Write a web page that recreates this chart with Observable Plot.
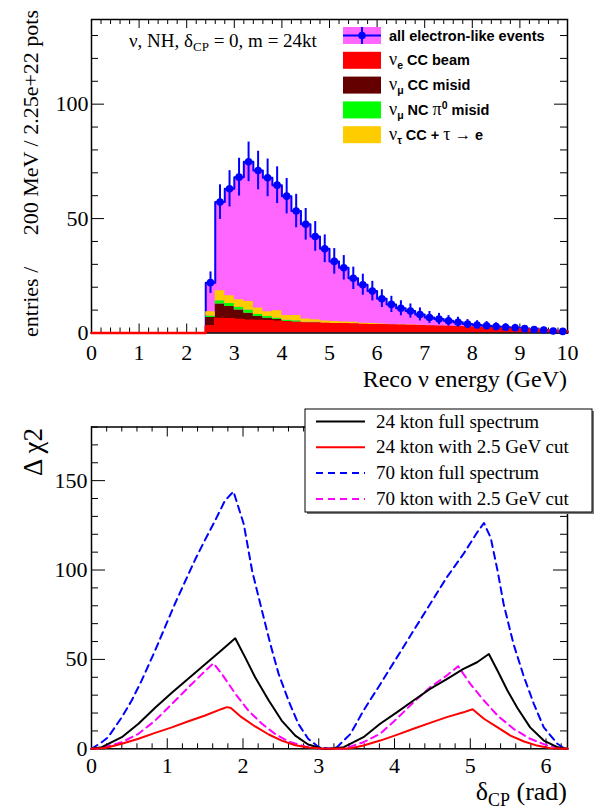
<!DOCTYPE html>
<html>
<head>
<meta charset="utf-8">
<script src="https://cdn.jsdelivr.net/npm/d3@7"></script>
<script src="https://cdn.jsdelivr.net/npm/@observablehq/plot@0.6"></script>
<style>
  html, body { margin: 0; padding: 0; background: #fff; }
  #chart { position: relative; width: 600px; height: 811px; overflow: hidden; background: #fff; }
  #chart svg { position: absolute; left: 0; }
</style>
</head>
<body>
<div id="chart"></div>
<script>
// ---------- spectrum: 50 bins of 200 MeV, 0-10 GeV ----------
const binWidth = 0.2;
const binLow = d3.range(50).map(i => Math.round(i * binWidth * 10) / 10);

const allEvents = [0,0,0,0,0,0,0,0,0,0,0,0,
  22.0, 57.2, 63.0, 68.1, 74.8, 71.0, 67.8, 64.6, 59.8, 53.3,
  47.5, 42.2, 36.8, 31.3, 28.5, 23.9, 21.1, 18.3, 15.0, 12.5,
  10.8, 9.6, 8.1, 6.8, 6.1, 5.3, 4.7, 3.9, 3.5, 3.2,
  2.8, 2.5, 2.3, 1.9, 1.5, 1.3, 0.9, 0.7];
const nueCCBeam = [0,0,0,0,0,0,0,0,0,0,0,0,
  2.9, 6.1, 6.0, 5.7, 5.4, 5.2, 5.1, 4.9, 4.6, 4.4,
  4.1, 4.1, 3.9, 3.8, 3.8, 3.7, 3.5, 3.4, 3.4, 3.3,
  3.2, 3.1, 3.0, 2.8, 2.7, 2.6, 2.5, 2.4, 2.2, 2.1,
  2.0, 1.9, 1.8, 1.6, 1.3, 1.2, 0.9, 0.7];
const numuCCMisid = [0,0,0,0,0,0,0,0,0,0,0,0,
  3.9, 6.6, 5.6, 4.3, 3.2, 2.0, 1.4, 1.0, 0.4, 0.3,
  0.2, 0.15, 0.1, 0.1, 0.05, 0.05, 0.05, 0.05, 0.05, 0.05,
  0.05, 0.05, 0.05, 0, 0, 0, 0, 0, 0, 0,
  0, 0, 0, 0, 0, 0, 0, 0];
const numuNCPi0 = [0,0,0,0,0,0,0,0,0,0,0,0,
  0.6, 1.4, 1.3, 1.2, 1.4, 0.9, 0.7, 0.6, 0.6, 0.6,
  0.4, 0.4, 0.3, 0.2, 0.2, 0.2, 0.15, 0.15, 0.1, 0.1,
  0.1, 0.1, 0.1, 0.1, 0.05, 0.05, 0.05, 0.05, 0.05, 0.05,
  0, 0, 0, 0, 0, 0, 0, 0];
const nutauCC = [0,0,0,0,0,0,0,0,0,0,0,0,
  1.9, 4.4, 3.4, 3.3, 3.8, 2.8, 2.1, 3.2, 2.0, 2.3,
  1.4, 1.1, 0.9, 0.9, 0.8, 0.7, 0.6, 0.5, 0.4, 0.3,
  0.3, 0.2, 0.2, 0.1, 0.1, 0.1, 0.1, 0.1, 0, 0,
  0, 0, 0, 0, 0, 0, 0, 0];

const componentNames = ["nue CC beam", "numu CC misid", "numu NC pi0 misid", "nutau CC"];
const componentColors = ["#ff0000", "#650000", "#00ff00", "#ffcc00"];
const components = [nueCCBeam, numuCCMisid, numuNCPi0, nutauCC];

// ---------- delta_CP sensitivity curves ----------
const chi24Full = [[0,0],[0.136,0.9],[0.40,6.5],[0.62,14],[0.84,23],[1.06,31.3],[1.28,39.3],[1.50,47.3],
  [1.72,55.3],[1.897,61.8],[2.03,51],[2.16,40],[2.34,27],[2.51,15.8],[2.69,7.4],[2.86,2.4],[3.04,0.2],
  [3.14,0],[3.33,0.9],[3.59,6.5],[3.81,14],[4.03,20.4],[4.25,27],[4.47,33.5],[4.69,39],[4.91,44.7],
  [5.09,48.4],[5.245,53],[5.36,43.7],[5.49,32.6],[5.62,23],[5.79,12],[5.97,4.6],[6.15,0.9],[6.283,0]];
const chi24Cut = [[0,0],[0.18,0.4],[0.40,2.8],[0.62,5.6],[0.84,8.9],[1.06,12],[1.28,15.4],[1.50,18.6],
  [1.72,22.3],[1.787,23.3],[1.84,22.8],[1.98,17.7],[2.16,12.5],[2.34,8],[2.51,4.6],[2.69,2],[2.86,0.7],
  [3.04,0.1],[3.14,0],[3.42,0.3],[3.59,1.8],[3.81,4.6],[4.03,7.8],[4.25,11.2],[4.47,14.5],[4.69,17.7],
  [4.91,20.4],[5.03,22.1],[5.18,16.8],[5.36,12],[5.53,7.4],[5.71,4.1],[5.88,1.8],[6.06,0.3],[6.283,0]];
const chi70Full = [[0,0],[0.136,3.7],[0.22,6.5],[0.40,17.7],[0.53,27],[0.66,38],[0.84,55],[0.97,68],
  [1.10,81],[1.24,94],[1.37,106],[1.50,117],[1.63,127.5],[1.76,138.7],[1.874,143.9],[2.01,125.7],
  [2.12,99.6],[2.25,77.3],[2.36,58.7],[2.47,41.9],[2.60,27],[2.73,14],[2.86,5.6],[3.0,0.9],[3.14,0],
  [3.24,0.9],[3.42,8.4],[3.59,21.4],[3.81,36],[4.03,51],[4.25,66],[4.47,81],[4.69,95.9],[4.91,109],
  [5.09,121],[5.18,126.3],[5.27,118],[5.36,99.6],[5.44,81],[5.57,58.7],[5.71,40],[5.84,25],[5.97,12],
  [6.15,2.8],[6.23,0.5],[6.283,0]];
const chi70Cut = [[0,0],[0.136,0.5],[0.40,3.7],[0.62,8.4],[0.84,15.8],[1.06,25],[1.28,34.4],[1.46,41.9],
  [1.61,47.8],[1.72,41.9],[1.90,30.7],[2.07,21.4],[2.25,14],[2.42,8.4],[2.60,4.1],[2.82,1.3],[3.04,0.1],
  [3.14,0],[3.33,0],[3.59,3.7],[3.81,8.4],[4.03,16.8],[4.25,26],[4.47,34.4],[4.69,41],[4.84,46.2],
  [5.0,36.3],[5.18,27],[5.36,18.6],[5.57,11.2],[5.79,5.6],[6.02,1.8],[6.23,0.2],[6.283,0]];

// tick values
const eMajor = d3.range(0, 11);
const eMinor = d3.range(0, 10.001, 0.2).filter(v => Math.abs(v - Math.round(v)) > 1e-6);
const nMajor = [0, 50, 100];
const nMinor = d3.range(10, 140, 10).filter(v => v % 50 !== 0);
const dMajor = d3.range(0, 7);
const dMinor = d3.range(0, 6.3, 0.2).filter(v => Math.abs(v - Math.round(v)) > 1e-6);
const cMajor = [0, 50, 100, 150];
const cMinor = d3.range(10, 181, 10).filter(v => v % 50 !== 0);

const serif = "'Liberation Serif', 'Times New Roman', serif";
const sans = "'Liberation Sans', Arial, Helvetica, sans-serif";

// step rows: one point per bin edge, closed at the last edge
function steps(values, series) {
  const rows = values.map((v, i) => ({x: binLow[i], v, series}));
  rows.push({x: 10, v: values[values.length - 1], series});
  return rows;
}

// inward tick marks on all four sides of a frame, lengths in pixels
function frameTicks({xd, yd, fw, fh, xMaj, xMin, yMaj, yMin, xLen, yLen}) {
  const ux = (xd[1] - xd[0]) / fw, uy = (yd[1] - yd[0]) / fh;
  const out = [];
  [[xMaj, xLen[0]], [xMin, xLen[1]]].forEach(([t, l]) => {
    out.push(Plot.ruleX(t, {x: d => d, y1: () => yd[0], y2: () => yd[0] + l * uy, stroke: "black", strokeWidth: 1}));
    out.push(Plot.ruleX(t, {x: d => d, y1: () => yd[1], y2: () => yd[1] - l * uy, stroke: "black", strokeWidth: 1}));
  });
  [[yMaj, yLen[0]], [yMin, yLen[1]]].forEach(([t, l]) => {
    out.push(Plot.ruleY(t, {y: d => d, x1: () => xd[0], x2: () => xd[0] + l * ux, stroke: "black", strokeWidth: 1}));
    out.push(Plot.ruleY(t, {y: d => d, x1: () => xd[1], x2: () => xd[1] - l * ux, stroke: "black", strokeWidth: 1}));
  });
  return out;
}

const chart = document.getElementById("chart");

// ---------- top panel: electron-like spectrum ----------
const topGeom = {width: 600, height: 400, left: 91, right: 33, top: 19, bottom: 67.5};
const eDomain = [0, 10], nDomain = [0, 137];

const totalLine = steps(allEvents, "all");
totalLine.push({x: 10, v: 0, series: "all"});
const stackRows = components.flatMap((vals, k) => steps(vals, componentNames[k]));
const points = binLow.map((lo, i) => ({x: lo + binWidth / 2, v: allEvents[i]})).filter(d => d.v > 0);

const topPlot = Plot.plot({
  width: topGeom.width, height: topGeom.height,
  marginLeft: topGeom.left, marginRight: topGeom.right, marginTop: topGeom.top, marginBottom: topGeom.bottom,
  x: {domain: eDomain, label: null},
  y: {domain: nDomain, label: null},
  color: {domain: componentNames, range: componentColors},
  style: {fontFamily: serif, fontSize: "22px", background: "none", overflow: "visible", color: "black"},
  marks: [
    ...frameTicks({xd: eDomain, yd: nDomain, fw: 476, fh: 313.5,
      xMaj: eMajor, xMin: eMinor, yMaj: nMajor, yMin: nMinor, xLen: [9, 5], yLen: [13, 7]}),
    Plot.areaY(steps(allEvents, "all"), {x: "x", y: "v", fill: "#ff66ff", curve: "step-after"}),
    Plot.line(totalLine, {x: "x", y: "v", stroke: "#0000ff", strokeWidth: 2, curve: "step-after"}),
    Plot.areaY(stackRows, {x: "x", y: "v", z: "series", fill: "series", curve: "step-after"}),
    Plot.frame({stroke: "black", strokeWidth: 1.5}),
    Plot.line(steps(nueCCBeam, "red"), {x: "x", y: "v", stroke: "#ff0000", strokeWidth: 2.5, curve: "step-after"}),
    Plot.ruleX(points, {x: "x", y1: d => d.v - Math.sqrt(d.v), y2: d => d.v + Math.sqrt(d.v), stroke: "#0000ff", strokeWidth: 2}),
    Plot.dot(points, {x: "x", y: "v", r: 3.8, fill: "#0000ff"}),
    Plot.axisX({ticks: eMajor, tickSize: 0, tickPadding: 11, fontSize: 22, fontFamily: serif, label: null, tickFormat: d => String(d)}),
    Plot.axisY({ticks: nMajor, tickSize: 0, tickPadding: 3, fontSize: 22, fontFamily: serif, label: null, tickFormat: d => String(d)})
  ]
});
topPlot.style.top = "0px";
chart.appendChild(topPlot);

// ---------- bottom panel: delta chi2 vs delta_CP ----------
const botGeom = {width: 600, height: 411, left: 91, right: 33, top: 26.5, bottom: 62.7};
const dDomain = [0, 2 * Math.PI], cDomain = [0, 180];
const rows = arr => arr.map(([x, y]) => ({x, y}));

const botPlot = Plot.plot({
  width: botGeom.width, height: botGeom.height,
  marginLeft: botGeom.left, marginRight: botGeom.right, marginTop: botGeom.top, marginBottom: botGeom.bottom,
  x: {domain: dDomain, label: null},
  y: {domain: cDomain, label: null},
  style: {fontFamily: serif, fontSize: "22px", background: "none", overflow: "visible", color: "black"},
  marks: [
    ...frameTicks({xd: dDomain, yd: cDomain, fw: 476, fh: 321.8,
      xMaj: dMajor, xMin: dMinor, yMaj: cMajor, yMin: cMinor, xLen: [10, 5], yLen: [14, 7]}),
    Plot.frame({stroke: "black", strokeWidth: 1.5}),
    Plot.line(rows(chi70Full), {x: "x", y: "y", stroke: "#0000ff", strokeWidth: 2, strokeDasharray: "7,5"}),
    Plot.line(rows(chi70Cut), {x: "x", y: "y", stroke: "#ff00ff", strokeWidth: 2, strokeDasharray: "7,5"}),
    Plot.line(rows(chi24Full), {x: "x", y: "y", stroke: "#000000", strokeWidth: 2}),
    Plot.line(rows(chi24Cut), {x: "x", y: "y", stroke: "#ff0000", strokeWidth: 2}),
    Plot.axisX({ticks: dMajor, tickSize: 0, tickPadding: 9, fontSize: 22, fontFamily: serif, label: null, tickFormat: d => String(d)}),
    Plot.axisY({ticks: cMajor, tickSize: 0, tickPadding: 4, fontSize: 22, fontFamily: serif, label: null, tickFormat: d => String(d)})
  ]
});
botPlot.style.top = "400px";
chart.appendChild(botPlot);

// ---------- titles and legends ----------
const ov = d3.create("svg").attr("width", 600).attr("height", 811).style("top", "0px");

// panel caption
const cap = ov.append("text").attr("x", 129).attr("y", 47).attr("font-family", serif).attr("font-size", 19);
cap.append("tspan").text("ν, NH, δ");
cap.append("tspan").attr("font-size", 13).attr("dy", 4).text("CP");
cap.append("tspan").attr("dy", -4).text(" = 0, m = 24kt");

// spectrum y title
ov.append("text").attr("transform", "translate(38,337) rotate(-90)")
  .attr("font-family", serif).attr("font-size", 22).attr("text-anchor", "start").text("entries /");
ov.append("text").attr("transform", "translate(38,10) rotate(-90)")
  .attr("font-family", serif).attr("font-size", 22).attr("text-anchor", "end").text("200 MeV / 2.25e+22 pots");

// spectrum x title
ov.append("text").attr("x", 567).attr("y", 387).attr("font-family", serif).attr("font-size", 24)
  .attr("text-anchor", "end").text("Reco ν energy (GeV)");

// spectrum legend
const legTop = ov.append("g");
const rowY = i => 35.5 + i * 24.8;
const swX = 343, swW = 38, swH = 17, txX = 389;
legTop.append("rect").attr("x", swX).attr("y", rowY(0) - swH / 2).attr("width", swW).attr("height", swH).attr("fill", "#ff66ff");
legTop.append("line").attr("x1", swX).attr("x2", swX + swW).attr("y1", rowY(0)).attr("y2", rowY(0)).attr("stroke", "#0000ff").attr("stroke-width", 2);
legTop.append("line").attr("x1", swX + swW / 2).attr("x2", swX + swW / 2).attr("y1", rowY(0) - swH / 2).attr("y2", rowY(0) + swH / 2).attr("stroke", "#0000ff").attr("stroke-width", 2);
legTop.append("circle").attr("cx", swX + swW / 2).attr("cy", rowY(0)).attr("r", 3.8).attr("fill", "#0000ff");
componentColors.forEach((c, k) => {
  legTop.append("rect").attr("x", swX).attr("y", rowY(k + 1) - swH / 2).attr("width", swW).attr("height", swH).attr("fill", c);
});
function legText(i) {
  return legTop.append("text").attr("x", txX).attr("y", rowY(i) + 5)
    .attr("font-family", sans).attr("font-size", 14.5).attr("font-weight", "bold");
}
legText(0).text("all electron-like events");
function nuLabel(i, sub, rest) {
  const t = legText(i);
  t.append("tspan").attr("font-family", serif).attr("font-weight", "normal").attr("font-size", 18).text("ν");
  t.append("tspan").attr("font-size", 10.5).attr("dy", 4).text(sub);
  t.append("tspan").attr("dy", -4).text(rest);
  return t;
}
nuLabel(1, "e", " CC beam");
nuLabel(2, "μ", " CC misid");
const nc = nuLabel(3, "μ", " NC  ");
nc.append("tspan").attr("font-family", serif).attr("font-weight", "normal").attr("font-size", 18).text("π");
nc.append("tspan").attr("font-size", 10.5).attr("dy", -6).text("0");
nc.append("tspan").attr("dy", 6).text(" misid");
const tau = nuLabel(4, "τ", " CC +  ");
tau.append("tspan").attr("font-family", serif).attr("font-weight", "normal").attr("font-size", 18).text("τ  ");
tau.append("tspan").attr("font-family", serif).attr("font-weight", "normal").attr("font-size", 16).text("→");
tau.append("tspan").text(" e");

// sensitivity y title
ov.append("text").attr("transform", "translate(42,428) rotate(-90)")
  .attr("font-family", serif).attr("font-size", 27).attr("text-anchor", "end").text("Δ χ2");

// sensitivity x title
const dx = ov.append("text").attr("x", 567).attr("y", 800).attr("font-family", serif).attr("font-size", 26).attr("text-anchor", "end");
dx.append("tspan").text("δ");
dx.append("tspan").attr("font-size", 18).attr("dy", 6).text("CP");
dx.append("tspan").attr("dy", -6).text(" (rad)");

// sensitivity legend
const legBot = ov.append("g");
legBot.append("rect").attr("x", 307).attr("y", 411).attr("width", 287).attr("height", 103).attr("fill", "#777");
legBot.append("rect").attr("x", 305).attr("y", 409).attr("width", 287).attr("height", 103)
  .attr("fill", "#fff").attr("stroke", "#000").attr("stroke-width", 1);
const botEntries = [
  ["24 kton full spectrum", "#000000", null],
  ["24 kton with 2.5 GeV cut", "#ff0000", null],
  ["70 kton full spectrum", "#0000ff", "7,5"],
  ["70 kton with 2.5 GeV cut", "#ff00ff", "7,5"]
];
botEntries.forEach(([label, color, dash], i) => {
  const y = 421.5 + i * 25.8;
  legBot.append("line").attr("x1", 316).attr("x2", 365).attr("y1", y).attr("y2", y)
    .attr("stroke", color).attr("stroke-width", 2).attr("stroke-dasharray", dash);
  legBot.append("text").attr("x", 376).attr("y", y + 6).attr("font-family", serif).attr("font-size", 19).text(label);
});

chart.appendChild(ov.node());
</script>
</body>
</html>
